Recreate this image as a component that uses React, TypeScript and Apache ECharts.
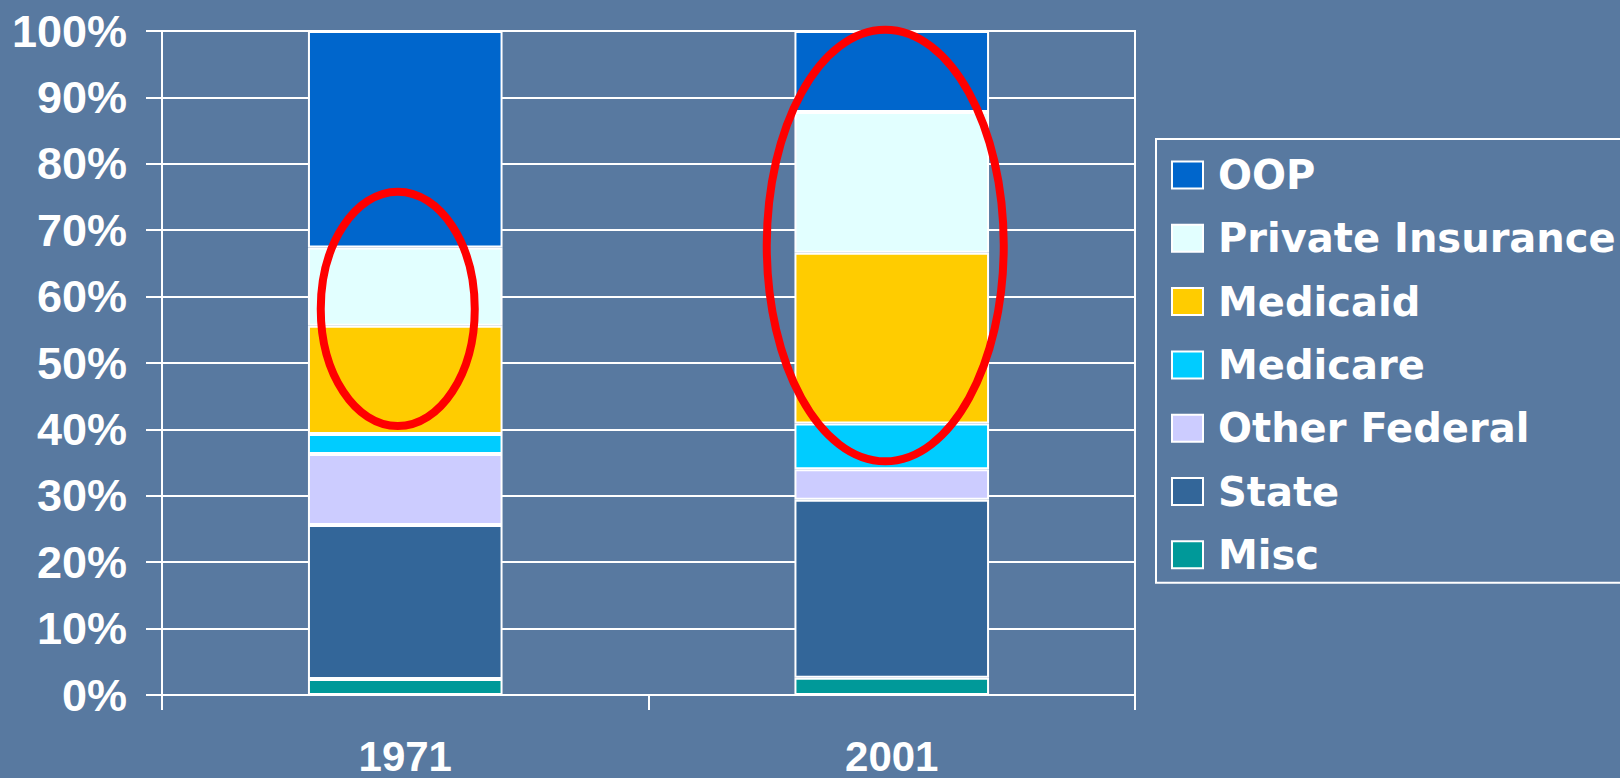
import React, { useEffect, useRef } from "react";
import * as echarts from "echarts";

const categories = ["1971", "2001"];
const seriesNames = ["Misc", "State", "Other Federal", "Medicare", "Medicaid", "Private Insurance", "OOP"];
const misc = [2.4, 2.6];
const state = [23.2, 26.8];
const otherFederal = [10.7, 4.6];
const medicare = [3.0, 6.9];
const medicaid = [16.3, 25.7];
const privateInsurance = [11.8, 21.2];
const oop = [32.6, 12.2];
const seriesValues = [misc, state, otherFederal, medicare, medicaid, privateInsurance, oop];
const seriesColors = ["#009999", "#336699", "#CCCCFF", "#00CCFF", "#FFCC00", "#E2FFFF", "#0066CC"];
const legendOrder = ["OOP", "Private Insurance", "Medicaid", "Medicare", "Other Federal", "State", "Misc"];
const yTicks = [0, 10, 20, 30, 40, 50, 60, 70, 80, 90, 100];

// highlight ellipses: category, low %, high %
const highlightCats = ["1971", "2001"];
const highlightLow = [40.5, 35.2];
const highlightHigh = [75.8, 100.2];

export default function App() {
  const ref = useRef<HTMLDivElement>(null);
  useEffect(() => {
    if (!ref.current) return;
    const chart = echarts.init(ref.current, null, { renderer: "svg" });
    const axisFont = {
      color: "#ffffff",
      fontFamily: "Liberation Sans, Arial, sans-serif",
      fontWeight: "bold" as const,
    };
    chart.setOption({
      animation: false,
      backgroundColor: "#5879a0",
      grid: {
        left: 162,
        right: 485,
        top: 31,
        bottom: 83,
        outerBoundsMode: "none",
        containLabel: false,
        show: true,
        borderColor: "#ffffff",
        borderWidth: 2,
        backgroundColor: "transparent",
      },
      legend: {
        data: legendOrder,
        orient: "vertical",
        left: 1156,
        top: 139,
        padding: [16, 40, 8, 15],
        itemWidth: 31,
        itemHeight: 27,
        itemGap: 23.3,
        icon: "rect",
        borderColor: "#ffffff",
        borderWidth: 2,
        textStyle: {
          color: "#ffffff",
          fontFamily: "DejaVu Sans, sans-serif",
          fontWeight: "bold",
          fontSize: 40,
          lineHeight: 40,
          padding: [0, 0, 0, 10],
        },
      },
      xAxis: {
        type: "category",
        data: categories,
        boundaryGap: true,
        axisLine: { show: true, lineStyle: { color: "#ffffff", width: 2 } },
        axisTick: { show: true, length: 15, interval: 0, lineStyle: { color: "#ffffff", width: 2 } },
        axisLabel: { ...axisFont, fontSize: 42, lineHeight: 32, margin: 45 },
      },
      yAxis: {
        type: "value",
        min: 0,
        max: 100,
        interval: 10,
        axisLine: { show: true, lineStyle: { color: "#ffffff", width: 2 } },
        axisTick: { show: true, length: 16, lineStyle: { color: "#ffffff", width: 2 } },
        splitLine: { show: true, lineStyle: { color: "#ffffff", width: 2 } },
        axisLabel: {
          ...axisFont,
          fontSize: 45,
          margin: 35,
          formatter: (v: number) => (yTicks.includes(v) ? v + "%" : ""),
        },
      },
      series: seriesNames.map((name, i) => ({
        name,
        type: "bar",
        stack: "total",
        barWidth: "40%",
        data: seriesValues[i],
        itemStyle: { color: seriesColors[i], borderColor: "#ffffff", borderWidth: 2 },
      })),
    });

    const graphics = highlightCats.map((cat, i) => {
      const mid = (highlightLow[i] + highlightHigh[i]) / 2;
      const c = chart.convertToPixel({ xAxisIndex: 0, yAxisIndex: 0 }, [cat, mid]) as number[];
      const t = chart.convertToPixel({ xAxisIndex: 0, yAxisIndex: 0 }, [cat, highlightHigh[i]]) as number[];
      const ry = Math.abs(c[1] - t[1]);
      const rx = i === 0 ? 77 : 118.5;
      const dx = i === 0 ? -7.5 : -6.5;
      return {
        type: "ellipse",
        shape: { cx: c[0] + dx, cy: c[1], rx, ry },
        style: { fill: "none", stroke: "#ff0000", lineWidth: 8 },
        z: 100,
      };
    });
    chart.setOption({ graphic: graphics });

    return () => chart.dispose();
  }, []);
  return (
    <div
      ref={ref}
      style={{ position: "fixed", left: 0, top: 0, width: 1620, height: 778 }}
    />
  );
}
